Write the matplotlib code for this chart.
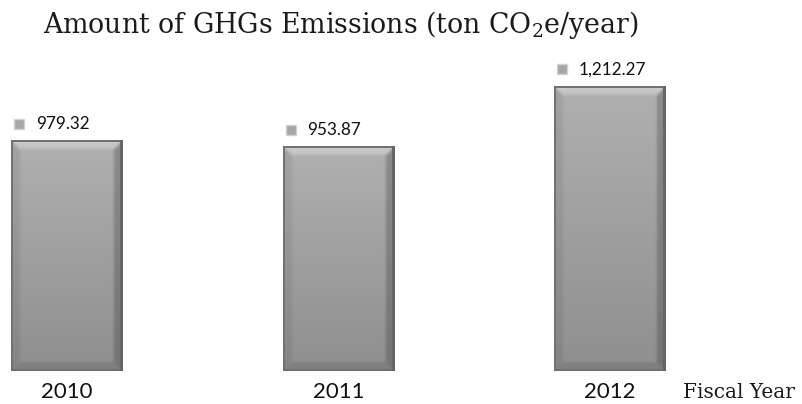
import numpy as np
import matplotlib
matplotlib.use("Agg")
import matplotlib.pyplot as plt
from matplotlib import transforms

years = ["2010", "2011", "2012"]
emissions = [979.32, 953.87, 1212.27]
value_labels = ["979.32", "953.87", "1,212.27"]
title = r"Amount of GHGs Emissions (ton CO$_\mathregular{2}$e/year)"
axis_label = "Fiscal Year"

W, H, DPI = 8.02, 4.04, 100
fig = plt.figure(figsize=(W, H), dpi=DPI)
ax = fig.add_axes([0, 0, 1, 1])
XLIM = (-0.2468, 2.707)
YLIM = (-140.5, 1579)
ax.axis("off")

bar_w = 0.41
px_per_x = W * DPI / (XLIM[1] - XLIM[0])
px_per_y = H * DPI / (YLIM[1] - YLIM[0])


def smooth(a, passes=2):
    for _ in range(passes):
        p = np.pad(a, 1, mode="edge")
        a = sum(p[1 + dy:p.shape[0] - 1 + dy, 1 + dx:p.shape[1] - 1 + dx]
                for dy in (-1, 0, 1) for dx in (-1, 0, 1)) / 9.0
    return a


def bevel_image(w, h, b=9):
    """Grey bar face with a soft mitred bevel around the edges."""
    yy, xx = np.mgrid[0:h, 0:w].astype(float)
    dt, db = yy, h - 1 - yy
    dl, dr = xx, w - 1 - xx
    t = yy / max(h - 1, 1)
    img = 0.69 - 0.13 * t
    m = np.minimum.reduce([dt, db, dl, dr])
    inb = m < b
    left = inb & (dl == m)
    right = inb & (dr == m)
    top = inb & (dt == m)
    bottom = inb & (db == m)
    img = np.where(left, 0.64 - 0.12 * t, img)
    img = np.where(right, 0.55 - 0.10 * t, img)
    img = np.where(top, 0.80 - 0.05 * dt / b, img)
    img = np.where(bottom, 0.50, img)
    img = smooth(img)
    edge = np.minimum.reduce([dt, db, dl, dr]) < 1.5
    img = np.where(edge, 0.45, img)
    img = np.where(dr < 2.5, np.minimum(img, 0.40), img)
    return np.dstack([img, img, img])


for i, (yr, v, lab) in enumerate(zip(years, emissions, value_labels)):
    w_px = int(round(bar_w * px_per_x))
    h_px = int(round(v * px_per_y))
    ax.imshow(bevel_image(w_px, h_px), extent=(i - bar_w / 2, i + bar_w / 2, 0, v),
              aspect="auto", interpolation="bilinear", zorder=2)

    icon_tr = transforms.offset_copy(ax.transData, fig=fig, x=-48, y=17, units="dots")
    ax.plot([i], [v], marker="s", markersize=7.5, color="#a6a6a6",
            markeredgecolor="#d2d2d2", markeredgewidth=1.0, transform=icon_tr,
            zorder=3)
    text_tr = transforms.offset_copy(ax.transData, fig=fig, x=-31, y=17, units="dots")
    ax.text(i, v, lab, transform=text_tr, ha="left", va="center",
            fontsize=12.3, family="Lato", color="#111111")

    year_tr = transforms.offset_copy(ax.transData, fig=fig, x=0, y=-21, units="dots")
    ax.text(i, 0, yr, transform=year_tr, ha="center", va="center",
            fontsize=16, family="Lato", color="#111111")

ax.set_xlim(*XLIM)
ax.set_ylim(*YLIM)

fig.text(43 / 802, 1 - 33 / 404, title, ha="left", va="baseline",
         fontsize=19.3, family="DejaVu Serif", color="#1a1a1a")
fig.text(683 / 802, 1 - 398 / 404, axis_label, ha="left", va="baseline",
         fontsize=14.5, family="DejaVu Serif", color="#1a1a1a")

fig.savefig("out.png", dpi=DPI, facecolor="white")
